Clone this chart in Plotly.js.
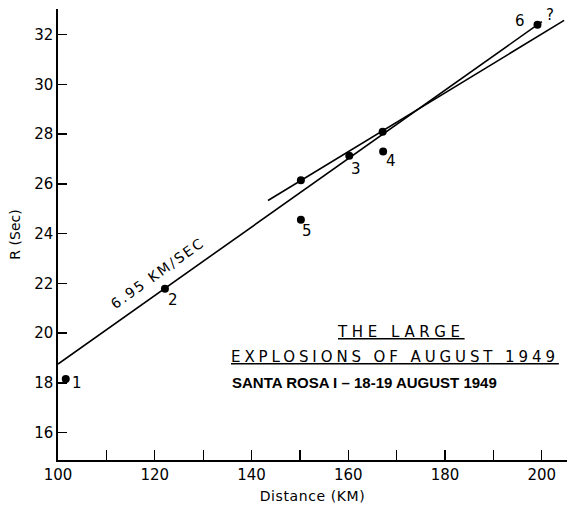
<!DOCTYPE html>
<html>
<head>
<meta charset="utf-8">
<script src="https://cdn.plot.ly/plotly-3.0.1.min.js"></script>
<style>
html,body{margin:0;padding:0;background:#fff;}
#chart{width:567px;height:505px;}
</style>
</head>
<body>
<div id="chart"></div>
<script>
// Observed points: distance (km) and R (sec)
const pointDistance = [101.6, 122.1, 160.2, 167.2, 150.2, 199.1, 150.2, 167.1];
const pointR        = [18.16, 21.78, 27.13, 27.3, 24.56, 32.4, 26.15, 28.1];
const pointLabels   = ['1', '2', '3', '4', '5', '6', '', ''];

// Fitted lines
const longLineDistance  = [100, 200];
const longLineR         = [18.76, 32.52];
const shortLineDistance = [143.4, 204.6];
const shortLineR        = [25.33, 32.57];

const velocityLabel = '6.95 KM/SEC';
const velocityLabelPos = [120.6, 22.42];

const xTickValues = [100, 120, 140, 160, 180, 200];
const yTickValues = [16, 18, 20, 22, 24, 26, 28, 30, 32];

const titleLines = ['THE LARGE', 'EXPLOSIONS OF AUGUST 1949', 'SANTA ROSA I – 18-19 AUGUST 1949'];

const FONT = 'DejaVu Sans, sans-serif';

// label offsets (px) relative to each point
const labelShift = [[11,-4],[8,-11],[7,-13],[8,-9],[6,-11],[-17,4]];

const annotations = [];
pointLabels.forEach((t, i) => {
  if (!t) return;
  annotations.push({
    x: pointDistance[i], y: pointR[i], xref: 'x', yref: 'y',
    xanchor: 'center', yanchor: 'middle',
    text: t, showarrow: false,
    xshift: labelShift[i][0], yshift: labelShift[i][1],
    font: {family: FONT, size: 15, color: '#000'}
  });
});
annotations.push({
  x: pointDistance[5], y: pointR[5], xref: 'x', yref: 'y',
  xanchor: 'center', yanchor: 'middle',
  text: '?', showarrow: false, xshift: 13, yshift: 10,
  font: {family: FONT, size: 15, color: '#000'}
});
annotations.push({
  x: velocityLabelPos[0], y: velocityLabelPos[1], xref: 'x', yref: 'y',
  xanchor: 'center', yanchor: 'middle',
  text: '<span style="letter-spacing:2px">' + velocityLabel + '</span>',
  showarrow: false, textangle: -35.5,
  font: {family: FONT, size: 14, color: '#000'}
});
annotations.push({
  x: 0.674, y: 0.283, xref: 'paper', yref: 'paper',
  xanchor: 'center', yanchor: 'middle',
  text: '<span style="letter-spacing:4.6px">' + titleLines[0] + '</span>',
  showarrow: false,
  font: {family: FONT, size: 15, color: '#000', lineposition: 'under'}
});
annotations.push({
  x: 0.662, y: 0.229, xref: 'paper', yref: 'paper',
  xanchor: 'center', yanchor: 'middle',
  text: '<span style="letter-spacing:3.9px">' + titleLines[1] + '</span>',
  showarrow: false,
  font: {family: FONT, size: 15, color: '#000', lineposition: 'under'}
});
annotations.push({
  x: 0.603, y: 0.171, xref: 'paper', yref: 'paper',
  xanchor: 'center', yanchor: 'middle',
  text: titleLines[2],
  showarrow: false,
  font: {family: 'Liberation Sans, sans-serif', size: 15, color: '#000', weight: 'bold'}
});

const traces = [
  {x: longLineDistance, y: longLineR, mode: 'lines', line: {color: '#000', width: 1.6}, hoverinfo: 'skip'},
  {x: shortLineDistance, y: shortLineR, mode: 'lines', line: {color: '#000', width: 1.6}, hoverinfo: 'skip'},
  {x: pointDistance, y: pointR, mode: 'markers', marker: {color: '#000', size: 8}}
];

const layout = {
  width: 567, height: 505,
  margin: {l: 58, r: 0, t: 9, b: 45},
  paper_bgcolor: '#fff', plot_bgcolor: '#fff',
  showlegend: false,
  font: {family: FONT, color: '#000'},
  xaxis: {
    range: [100, 205.2],
    tickvals: xTickValues,
    ticks: 'inside', ticklen: 10, tickwidth: 1.3, tickcolor: '#000',
    minor: {dtick: 10, tick0: 100, ticks: 'inside', ticklen: 10, tickwidth: 1.3, tickcolor: '#000', showgrid: false},
    showline: true, linecolor: '#000', linewidth: 1.6,
    showgrid: false, zeroline: false,
    tickfont: {family: FONT, size: 15, color: '#000'},
    title: {text: '<span style="letter-spacing:0.6px">Distance (KM)</span>', font: {family: FONT, size: 14, color: '#000'}, standoff: 8}
  },
  yaxis: {
    range: [14.9, 33.03],
    tickvals: yTickValues,
    ticks: 'inside', ticklen: 9, tickwidth: 1.3, tickcolor: '#000',
    showline: true, linecolor: '#000', linewidth: 1.6,
    showgrid: false, zeroline: false,
    tickfont: {family: FONT, size: 15, color: '#000'},
    title: {text: 'R (Sec)', font: {family: FONT, size: 14, color: '#000'}, standoff: 10}
  },
  annotations: annotations
};

Plotly.newPlot('chart', traces, layout, {staticPlot: true, displayModeBar: false});
</script>
</body>
</html>
